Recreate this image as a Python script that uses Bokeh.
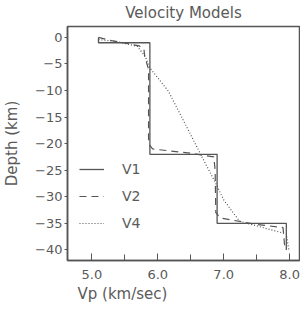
from bokeh.plotting import figure
from bokeh.models import Range1d, Legend, LegendItem, Title, FixedTicker
from bokeh.embed import file_html
from bokeh.resources import INLINE

# Data
v1_vp = [5.1, 5.1, 5.88, 5.88, 6.9, 6.9, 7.95, 7.95]
v1_depth = [0, -1, -1, -22, -22, -35, -35, -40]

v2_vp = [5.1, 5.3, 5.5, 5.72, 5.79, 5.8, 5.86, 5.86, 5.92, 6.5, 6.85, 6.87, 6.88, 6.95, 7.5, 7.9, 7.93]
v2_depth = [0, -0.6, -1.05, -1.6, -2.2, -3.5, -6, -20, -21, -21.8, -22.5, -25, -33, -34, -35.2, -35.8, -40]

v4_vp = [5.1, 5.37, 5.69, 5.81, 5.88, 6.16, 6.65, 6.9, 7.0, 7.24, 7.95, 7.99]
v4_depth = [-0.4, -0.75, -1.7, -3.6, -5.75, -10.1, -22, -28, -30.6, -34.6, -37, -40.2]

x_ticks = [5.0, 6.0, 7.0, 8.0]
x_tick_labels = ["5.0", "6.0", "7.0", "8.0"]
y_ticks = [0, -5, -10, -15, -20, -25, -30, -35, -40]
y_tick_labels = ["0", "\u22125", "\u221210", "\u221215", "\u221220", "\u221225", "\u221230", "\u221235", "\u221240"]

FONT = "DejaVu Sans"
TXT = "#5a5a5a"
LN = "#555555"

p = figure(width=300, height=310, output_backend="svg", toolbar_location=None,
           x_range=Range1d(4.63, 8.15), y_range=Range1d(-42.0, 2.06),
           min_border_left=65, min_border_right=1, min_border_top=25, min_border_bottom=50,
           background_fill_color="white", border_fill_color="white")
p.grid.visible = False
p.outline_line_color = LN
p.outline_line_width = 1.5

r1 = p.line(v1_vp, v1_depth, line_color=LN, line_width=1.3)
r2 = p.line(v2_vp, v2_depth, line_color=LN, line_width=1.2, line_dash="7 5")
r4 = p.line(v4_vp, v4_depth, line_color=LN, line_width=1.2, line_dash="1 2")

xa = p.xaxis[0]
xa.ticker = FixedTicker(ticks=x_ticks, minor_ticks=[5.5, 6.5, 7.5])
xa.major_label_overrides = {t: l for t, l in zip(x_ticks, x_tick_labels)}
xa.major_tick_in = 7
xa.major_tick_out = 0
xa.minor_tick_in = 6
xa.minor_tick_out = 0
xa.major_label_standoff = 9
xa.axis_line_color = LN
xa.axis_line_width = 1.5
xa.major_tick_line_color = LN
xa.minor_tick_line_color = LN
xa.major_label_text_font = FONT
xa.major_label_text_font_size = "13px"
xa.major_label_text_color = TXT

ya = p.yaxis[0]
ya.ticker = FixedTicker(ticks=y_ticks)
ya.major_label_overrides = {t: l for t, l in zip(y_ticks, y_tick_labels)}
ya.major_tick_in = 0
ya.major_tick_out = 3
ya.minor_tick_in = 0
ya.minor_tick_out = 0
ya.major_label_standoff = 2
ya.axis_line_color = LN
ya.axis_line_width = 1.5
ya.major_tick_line_color = LN
ya.major_label_text_font = FONT
ya.major_label_text_font_size = "13px"
ya.major_label_text_color = TXT
ya.axis_label = "Depth (km)"
ya.axis_label_text_font = FONT
ya.axis_label_text_font_size = "15px"
ya.axis_label_text_font_style = "normal"
ya.axis_label_text_color = TXT
ya.axis_label_standoff = 11

p.add_layout(Title(text="Vp (km/sec)", align="left", offset=10, text_font=FONT,
                   text_font_size="15px", text_font_style="normal", text_color=TXT,
                   vertical_align="bottom", standoff=3), "below")
p.add_layout(Title(text="Velocity Models", align="center", text_font=FONT,
                   text_font_size="15px", text_font_style="normal", text_color=TXT,
                   vertical_align="top", standoff=6), "above")

legend = Legend(items=[LegendItem(label="V1", renderers=[r1]),
                       LegendItem(label="V2", renderers=[r2]),
                       LegendItem(label="V4", renderers=[r4])],
                location=(12, 27), glyph_width=25, glyph_height=20, label_height=20,
                spacing=7, padding=0, margin=0, label_standoff=18,
                border_line_color=None, background_fill_alpha=0,
                label_text_font=FONT, label_text_font_size="14px", label_text_color=TXT)
p.add_layout(legend)

open("out.html", "w").write(file_html(p, INLINE))
